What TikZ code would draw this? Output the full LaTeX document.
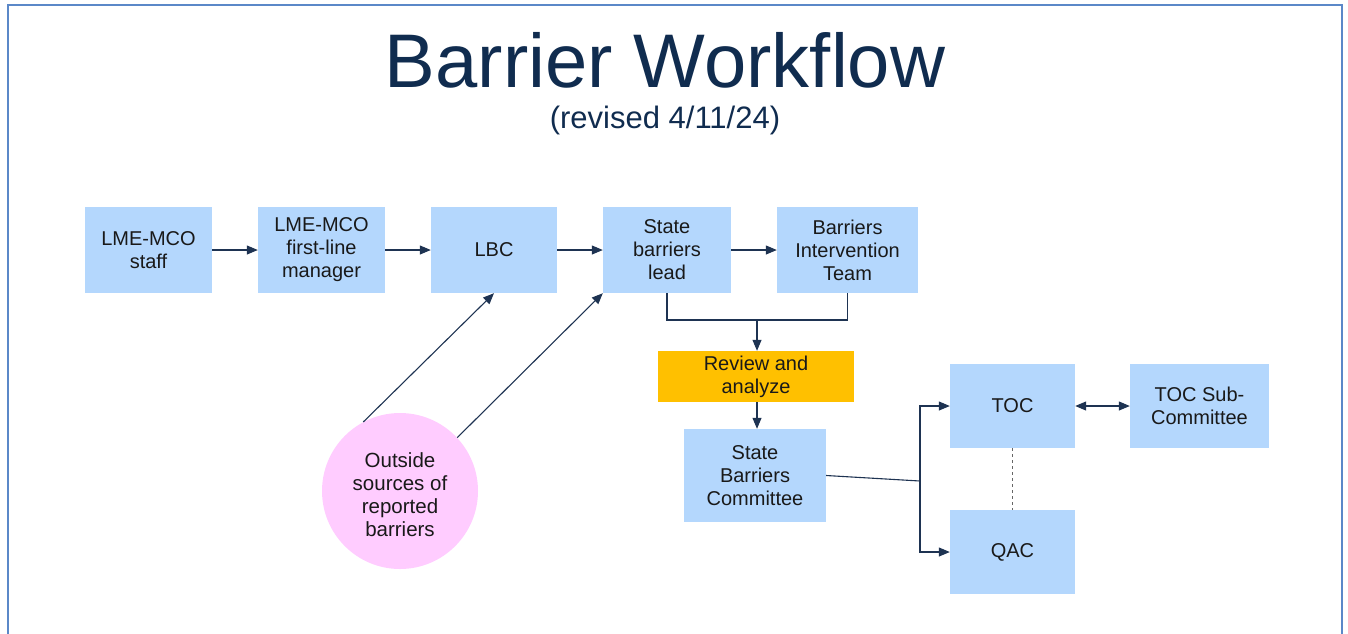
\documentclass[tikz,border=0pt]{standalone}
\usepackage{fontspec}
\setmainfont{Liberation Sans}
\usetikzlibrary{arrows.meta}
\definecolor{boxblue}{HTML}{B4D7FD}
\definecolor{revorange}{HTML}{FFC000}
\definecolor{circpink}{HTML}{FFCCFF}
\definecolor{titlenavy}{HTML}{102C4F}
\definecolor{linenavy}{HTML}{1E3352}
\definecolor{framecol}{HTML}{5B88C8}
\tikzset{
  boxnode/.style={rectangle, fill=boxblue, draw=none, align=center, inner sep=2pt,
    font=\fontsize{20}{23}\selectfont, text=black!90},
  conn/.style={draw=linenavy, line width=1.1pt},
  arr/.style={conn, -{Triangle[length=11pt,width=9pt]}},
  darr/.style={conn, {Triangle[length=11pt,width=9pt]}-{Triangle[length=11pt,width=9pt]}},
}
\begin{document}
\begin{tikzpicture}[x=1pt,y=-1pt]
\useasboundingbox (0,0) rectangle (1348,633);
\begin{scope}
\clip (0,0) rectangle (1348,633);
\draw[framecol, line width=2.5pt] (8,5) rectangle (1342,660);
\end{scope}
\node[anchor=base, text=titlenavy, font=\fontsize{76}{84}\selectfont] (title) at (665,87) {Barrier Workflow};
\node[anchor=base, text=titlenavy, font=\fontsize{31}{34}\selectfont] (sub) at (665,128) {(revised 4/11/24)};

\node[boxnode, minimum width=127pt, minimum height=86pt] (staff) at (148.5,250) {LME-MCO\\staff};
\node[boxnode, minimum width=127pt, minimum height=86pt] (mgr) at (321.5,250) {LME-MCO\\first-line\\manager};
\node[boxnode, minimum width=126pt, minimum height=86pt] (lbc) at (494,250) {LBC};
\node[boxnode, minimum width=128pt, minimum height=86pt] (lead) at (667,250) {State\\barriers\\lead};
\node[boxnode, minimum width=141pt, minimum height=86pt] (bit) at (847.5,250) {Barriers\\Intervention\\Team};
\node[boxnode, fill=revorange, minimum width=196pt, minimum height=51pt] (rev) at (756,376.5) {Review and\\analyze};
\node[boxnode, minimum width=142pt, minimum height=93pt] (sbc) at (755,475.5) {State\\Barriers\\Committee};
\node[boxnode, minimum width=125pt, minimum height=84pt] (toc) at (1012.5,406) {TOC};
\node[boxnode, minimum width=139pt, minimum height=84pt] (tocsub) at (1199.5,406) {TOC Sub-\\Committee};
\node[boxnode, minimum width=125pt, minimum height=84pt] (qac) at (1012.5,552) {QAC};
\node[circle, fill=circpink, minimum size=156pt, inner sep=0pt] (outs) at (400,491) {};
\node[align=center, font=\fontsize{20.5}{23}\selectfont, text=black!90] (outstext) at (400,495) {Outside\\sources of\\reported\\barriers};

\coordinate (j) at (757,320);
\coordinate (br) at (920,481);

\draw[arr] (staff.east) -- (mgr.west);
\draw[arr] (mgr.east) -- (lbc.west);
\draw[arr] (lbc.east) -- (lead.west);
\draw[arr] (lead.east) -- (bit.west);
\draw[conn] (lead.south) |- (j);
\draw[conn] (bit.south) |- (j);
\draw[arr] (j) -- (j |- rev.north);
\draw[arr] (rev.south -| j) -- (j |- sbc.north);
\draw[conn] (sbc.east) -- (br);
\draw[arr] (br) |- (toc.west);
\draw[arr] (br) |- (qac.west);
\draw[darr] (toc.east) -- (tocsub.west);
\draw[conn, line width=0.8pt, dashed, draw=black!60] (toc.south) -- (qac.north);
\draw[arr] (outs.118) -- (lbc.south);
\draw[arr] (outs.43) -- (lead.south west);
\end{tikzpicture}
\end{document}
